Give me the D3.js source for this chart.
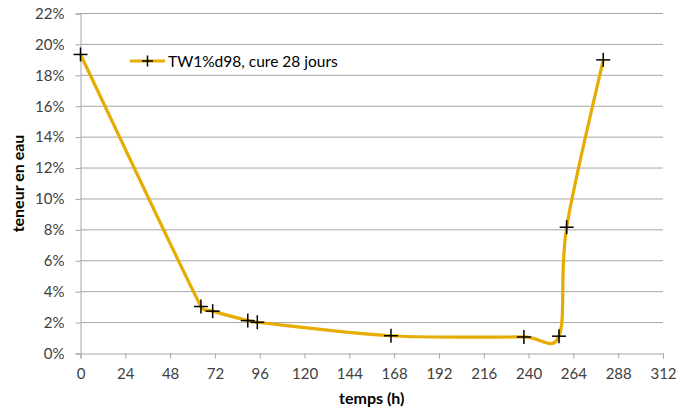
<!DOCTYPE html>
<html><head><meta charset="utf-8">
<script src="https://cdn.jsdelivr.net/npm/d3@7"></script>
<style>body{margin:0;background:#fff}svg{display:block}</style>
</head><body>
<svg id="c" width="678" height="415"></svg>
<script>
const hours = [0, 64.5, 70.8, 89.6, 94.7, 166.3, 237.5, 256.3, 260.4, 280];
const teneur = [0.1935, 0.0304, 0.0274, 0.0213, 0.0202, 0.0115, 0.0107, 0.0112, 0.0817, 0.190];
const xTicks = [0,24,48,72,96,120,144,168,192,216,240,264,288,312];
const yTicks = [0,0.02,0.04,0.06,0.08,0.10,0.12,0.14,0.16,0.18,0.20,0.22];
const seriesName = "TW1%d98, cure 28 jours";
const xTitle = "temps (h)";
const yTitle = "teneur en eau";

const svg = d3.select("#c");
const font = "Lato, 'Open Sans', sans-serif";
const x = d3.scaleLinear().domain([0,312]).range([80.5,663]);
const y = d3.scaleLinear().domain([0,0.22]).range([353.5,13.5]);

// gridlines
svg.append("g").selectAll("line").data(yTicks.filter(d=>d>0)).join("line")
  .attr("x1",x(0)).attr("x2",x(312)).attr("y1",d=>y(d)).attr("y2",d=>y(d))
  .attr("stroke","#a6a6a6").attr("stroke-width",1);

// y axis
const ya = svg.append("g").attr("transform",`translate(${x(0)},0)`)
  .call(d3.axisLeft(y).tickValues(yTicks).tickFormat(d=>Math.round(d*100)+"%").tickSize(5).tickPadding(11));
// x axis
const xa = svg.append("g").attr("transform",`translate(0,${y(0)})`)
  .call(d3.axisBottom(x).tickValues(xTicks).tickSize(5).tickPadding(10));
[ya,xa].forEach(a=>{
  a.select(".domain").attr("stroke","#a6a6a6");
  a.selectAll(".tick line").attr("stroke","#a6a6a6");
  a.selectAll("text").attr("font-family",font).attr("font-size",15).attr("fill","#404040");
});

// Excel-like smoothed line (Bezier with limited control points)
const pts = teneur.map((v,i)=>[x(hours[i]), y(v)]);
const dist = (a,b)=>Math.hypot(a[0]-b[0], a[1]-b[1]);
let d = `M${pts[0][0]},${pts[0][1]}`;
for (let i=0;i<pts.length-1;i++){
  const p0 = pts[Math.max(0,i-1)], p1 = pts[i], p2 = pts[i+1], p3 = pts[Math.min(pts.length-1,i+2)];
  const d12 = dist(p1,p2), d02 = dist(p0,p2), d13 = dist(p1,p3);
  const f1 = d02>0 ? Math.min(1/6, 0.5*d12/d02) : 0;
  const f2 = d13>0 ? Math.min(1/6, 0.5*d12/d13) : 0;
  const c1 = [p1[0]+(p2[0]-p0[0])*f1, p1[1]+(p2[1]-p0[1])*f1];
  const c2 = [p2[0]-(p3[0]-p1[0])*f2, p2[1]-(p3[1]-p1[1])*f2];
  d += `C${c1[0]},${c1[1]} ${c2[0]},${c2[1]} ${p2[0]},${p2[1]}`;
}
svg.append("path").attr("d",d).attr("fill","none")
  .attr("stroke","#E6AC00").attr("stroke-width",3.2).attr("stroke-linejoin","round");

// markers
const plus = (g,cx,cy)=>{
  g.append("line").attr("x1",cx-7).attr("x2",cx+7).attr("y1",cy).attr("y2",cy).attr("stroke","#000").attr("stroke-width",1.5);
  g.append("line").attr("x1",cx).attr("x2",cx).attr("y1",cy-7).attr("y2",cy+7).attr("stroke","#000").attr("stroke-width",1.5);
};
const mg = svg.append("g");
pts.forEach(p=>plus(mg,p[0],p[1]));

// legend
const lg = svg.append("g");
lg.append("line").attr("x1",130).attr("x2",165).attr("y1",61).attr("y2",61).attr("stroke","#E6AC00").attr("stroke-width",3.2);
lg.append("line").attr("x1",142).attr("x2",153).attr("y1",61).attr("y2",61).attr("stroke","#000").attr("stroke-width",1.5);
lg.append("line").attr("x1",147.5).attr("x2",147.5).attr("y1",55.5).attr("y2",66.5).attr("stroke","#000").attr("stroke-width",1.5);
lg.append("text").attr("x",168).attr("y",66.5).attr("font-family",font).attr("font-size",15.5).attr("fill","#000").text(seriesName);

// titles
svg.append("text").attr("x",(x(0)+x(312))/2).attr("y",404).attr("text-anchor","middle")
  .attr("font-family",font).attr("font-weight","bold").attr("font-size",16).text(xTitle);
svg.append("text").attr("transform",`translate(24,${(y(0)+y(0.22))/2}) rotate(-90)`).attr("text-anchor","middle")
  .attr("font-family",font).attr("font-weight","bold").attr("font-size",16).text(yTitle);
</script>
</body></html>
